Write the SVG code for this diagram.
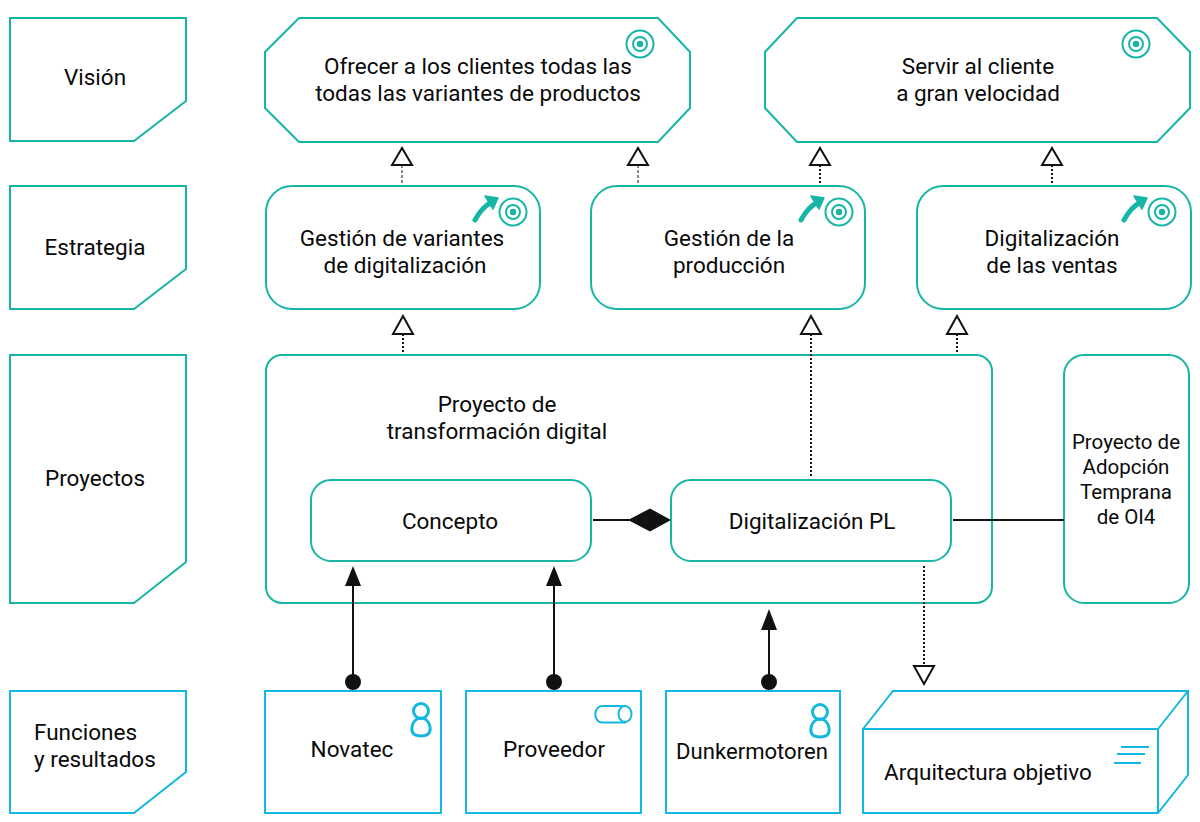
<svg xmlns="http://www.w3.org/2000/svg" width="1200" height="822" viewBox="0 0 1200 822">
<defs>
<g id="goal"><circle class="ti" r="13.500"/><circle class="ti" r="7"/><circle class="d" r="3.200"/></g>
<g id="outcome"><path class="ar" d="M0,0 Q7,-13 17,-18"/><polygon class="d" points="10,-24 23,-22 18,-11" stroke="#17b5a6" stroke-width="1.500" stroke-linejoin="round"/></g>
<g id="person"><path class="p" d="M0,15 C-4,15 -8,18 -9,24 C-10,30 -7,33 0,33 C7,33 10,30 9,24 C8,18 4,15 0,15 Z" stroke-linejoin="round"/><circle class="p" cy="8" r="7.500"/></g>
</defs>
<style>
text{font-family:Roboto,"Liberation Sans",sans-serif;font-size:22.5px;fill:#0a0a0a;text-anchor:middle}
.sm{font-size:20.500px}
.t{fill:#fff;stroke:#17b5a6;stroke-width:2}
.b{fill:#fff;stroke:#12b8e0;stroke-width:2}
.i{fill:none;stroke:#12b8e0;stroke-width:2}
.p{fill:none;stroke:#12b8e0;stroke-width:3}
.ti{fill:none;stroke:#17b5a6;stroke-width:2}
.d{fill:#17b5a6}
.ar{fill:none;stroke:#17b5a6;stroke-width:5;stroke-linecap:round;stroke-linejoin:round}
.c{fill:none;stroke:#111;stroke-width:2}
.dt{fill:none;stroke:#111;stroke-width:2;stroke-dasharray:2 2}
.dh{fill:none;stroke:#111;stroke-width:1;stroke-dasharray:3 2}
.o{fill:#fff;stroke:#111;stroke-width:2}
.s{fill:#111}
</style>
<g id="vision-label"><polygon class="t" points="10,18 186,18 186,101 134,141 10,141"/><text x="95" y="85">Visión</text></g>
<g id="estrategia-label"><polygon class="t" points="10,186 186,186 186,269 134,309 10,309"/><text x="95" y="255">Estrategia</text></g>
<g id="proyectos-label"><polygon class="t" points="10,355 186,355 186,562 134,603 10,603"/><text x="95" y="486">Proyectos</text></g>
<g id="funciones-label"><polygon class="b" points="10,691 186,691 186,772 134,813 10,813"/><text x="34" y="740" style="text-anchor:start">Funciones</text><text x="34" y="767" style="text-anchor:start">y resultados</text></g>
<g id="vision1"><polygon class="t" points="299,18 658,18 690,52 690,108 658,142 299,142 265,108 265,52"/><text x="478" y="73.500">Ofrecer a los clientes todas las</text><text x="478" y="100.500">todas las variantes de productos</text>
<use href="#goal" x="640" y="44"/></g>
<g id="vision2"><polygon class="t" points="797,18 1157,18 1190,52 1190,108 1157,142 797,142 765,108 765,52"/><text x="978" y="73.500">Servir al cliente</text><text x="978" y="100.500">a gran velocidad</text>
<use href="#goal" x="1136" y="44"/></g>
<g id="estrategia1"><rect class="t" x="266" y="186" width="274" height="123" rx="26"/><text x="402" y="245.500">Gestión de variantes</text><text x="405" y="272.500">de digitalización</text>
<use href="#outcome" x="475" y="220"/><use href="#goal" x="513" y="212"/></g>
<g id="estrategia2"><rect class="t" x="591" y="186" width="274" height="123" rx="26"/><text x="729" y="245.500">Gestión de la</text><text x="729" y="272.500">producción</text>
<use href="#outcome" x="801" y="220"/><use href="#goal" x="839" y="212"/></g>
<g id="estrategia3"><rect class="t" x="917" y="186" width="274" height="123" rx="26"/><text x="1052" y="245.500">Digitalización</text><text x="1052" y="272.500">de las ventas</text>
<use href="#outcome" x="1124" y="220"/><use href="#goal" x="1162" y="212"/></g>
<g id="proyecto-td"><rect class="t" x="266" y="355" width="726" height="248" rx="16"/><text x="497" y="411.500">Proyecto de</text><text x="497" y="438.500">transformación digital</text></g>
<g id="concepto"><rect class="t" x="311" y="480" width="280" height="81" rx="20"/><text x="450" y="529">Concepto</text></g>
<g id="digitalizacion-pl"><rect class="t" x="671" y="480" width="280" height="81" rx="20"/><text x="812" y="529">Digitalización PL</text></g>
<g id="proyecto-oi4"><rect class="t" x="1064" y="355" width="125" height="248" rx="20"/><text class="sm" x="1126" y="449">Proyecto de</text><text class="sm" x="1126" y="474">Adopción</text><text class="sm" x="1126" y="499">Temprana</text><text class="sm" x="1126" y="524">de OI4</text></g>
<g id="novatec"><rect class="b" x="265" y="691" width="176" height="122"/><text x="352" y="757">Novatec</text>
<use href="#person" x="421" y="703"/></g>
<g id="proveedor"><rect class="b" x="466" y="691" width="175" height="122"/><text x="554" y="757">Proveedor</text>
<path class="i" d="M626,706 L602,706 A6.5,8 0 0 0 602,722.500 L626,722.500"/><ellipse class="i" cx="625" cy="714" rx="6.500" ry="8"/></g>
<g id="dunkermotoren"><rect class="b" x="666" y="691" width="174" height="122"/><text x="752" y="759" style="font-size:22.100px">Dunkermotoren</text>
<use href="#person" x="820" y="704"/></g>
<g id="arquitectura"><polygon class="b" points="863,729 893,691 1188,691 1188,775 1158,813 863,813"/><path class="i" d="M863,729 H1158 V813 M1158,729 L1188,691"/><text x="988" y="780">Arquitectura objetivo</text>
<path class="i" d="M1121,747 H1149 M1117,754 H1145 M1114,763 H1141"/></g>
<g id="connectors">
<line class="dh" x1="402" y1="165" x2="402" y2="184"/><polygon class="o" points="402,148 392,165 412,165"/>
<line class="dh" x1="638" y1="165" x2="638" y2="184"/><polygon class="o" points="638,148 628,165 648,165"/>
<line class="dt" x1="820" y1="165" x2="820" y2="184"/><polygon class="o" points="820,148 810,165 830,165"/>
<line class="dt" x1="1052" y1="165" x2="1052" y2="184"/><polygon class="o" points="1052,148 1042,165 1062,165"/>
<line class="dt" x1="403" y1="334" x2="403" y2="352"/><polygon class="o" points="403,316 393,334 413,334"/>
<line class="dt" x1="811" y1="334" x2="811" y2="476"/><polygon class="o" points="811,316 801,334 821,334"/>
<line class="dt" x1="957" y1="334" x2="957" y2="352"/><polygon class="o" points="957,316 947,334 967,334"/>
<line class="c" x1="593" y1="520" x2="630" y2="520"/><polygon class="s" points="628,520 650,508.500 671,520 650,531.500"/>
<line class="c" x1="953" y1="520" x2="1064" y2="520"/>
<line class="dt" x1="924" y1="566" x2="924" y2="666"/><polygon class="o" points="924,684 914,666 934,666"/>
<line class="c" x1="353" y1="584" x2="353" y2="682"/><polygon class="s" points="353,566 345,586 361,586"/><circle class="s" cx="353" cy="682" r="8"/>
<line class="c" x1="554" y1="584" x2="554" y2="682"/><polygon class="s" points="554,566 546,586 562,586"/><circle class="s" cx="554" cy="682" r="8"/>
<line class="c" x1="769" y1="628" x2="769" y2="682"/><polygon class="s" points="769,609 761,630 777,630"/><circle class="s" cx="769" cy="682" r="8"/>
</g>
</svg>
